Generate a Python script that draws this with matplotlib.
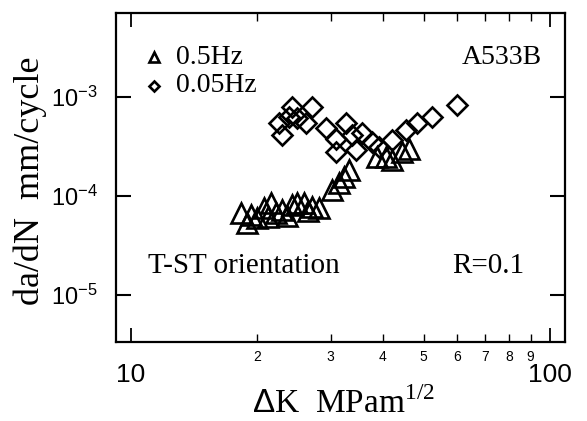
import matplotlib
matplotlib.use('Agg')
import matplotlib.pyplot as plt
from matplotlib.ticker import FixedLocator, FixedFormatter, NullFormatter

plt.rcParams['mathtext.fontset'] = 'custom'
plt.rcParams['mathtext.rm'] = 'Liberation Sans'
plt.rcParams['mathtext.it'] = 'Liberation Sans'

# ── Data ─────────────────────────────────────────────────────────────
dk_05hz = [18.3, 18.9, 19.4, 20.0, 20.8, 21.3, 21.6, 22.2, 23.0, 23.6, 24.3, 24.9,
           25.9, 26.5, 27.1, 28.2, 30.3, 31.4, 32.3, 33.2, 38.6, 40.7, 42.1, 44.3, 46.2]
dadn_05hz = [6.8e-5, 5.3e-5, 6.4e-5, 6.0e-5, 7.5e-5, 6.2e-5, 8.4e-5, 6.8e-5, 7.2e-5,
             6.3e-5, 8.1e-5, 8.4e-5, 8.4e-5, 7.0e-5, 7.7e-5, 7.5e-5, 1.14e-4, 1.34e-4,
             1.55e-4, 1.82e-4, 2.5e-4, 2.5e-4, 2.3e-4, 2.8e-4, 3.0e-4]

dk_005hz = [24.3, 27.1, 23.9, 22.6, 22.9, 24.9, 26.2, 29.3, 32.7, 30.9, 33.8,
            35.7, 37.7, 30.9, 34.5, 39.2, 42.1, 45.5, 48.1, 52.5, 60.0]
dadn_005hz = [7.9e-4, 7.9e-4, 6.2e-4, 5.5e-4, 4.1e-4, 6.1e-4, 5.4e-4, 4.9e-4,
              5.4e-4, 3.8e-4, 4.1e-4, 4.3e-4, 3.5e-4, 2.8e-4, 2.9e-4, 3.1e-4,
              3.7e-4, 4.6e-4, 5.4e-4, 6.2e-4, 8.2e-4]

minor_x = [20, 30, 40, 50, 60, 70, 80, 90]
minor_labels = ['2', '3', '4', '5', '6', '7', '8', '9']
major_x = [10, 100]
major_labels = ['10', '100']
y_ticks = [1e-5, 1e-4, 1e-3]
y_labels = [r'$10^{-5}$', r'$10^{-4}$', r'$10^{-3}$']

serif = 'Liberation Serif'
sans = 'Liberation Sans'

fig = plt.figure(figsize=(5.87, 4.21), dpi=100)
ax = fig.add_axes([0.197, 0.1876, 0.765, 0.781])

mk = dict(linestyle='none', markerfacecolor='none', markeredgecolor='black',
          markeredgewidth=1.9)
ax.plot(dk_05hz, dadn_05hz, marker='^', markersize=14, **mk)
ax.plot(dk_005hz, dadn_005hz, marker='D', markersize=10.5, **mk)

ax.set_xscale('log')
ax.set_yscale('log')
ax.set_xlim(9.2, 108.6)
ax.set_ylim(3.35e-6, 7.0e-3)

ax.xaxis.set_major_locator(FixedLocator(major_x))
ax.xaxis.set_major_formatter(FixedFormatter(major_labels))
ax.xaxis.set_minor_locator(FixedLocator(minor_x))
ax.xaxis.set_minor_formatter(FixedFormatter(minor_labels))
ax.yaxis.set_major_locator(FixedLocator(y_ticks))
ax.yaxis.set_major_formatter(FixedFormatter(y_labels))
ax.yaxis.set_minor_formatter(NullFormatter())
ax.yaxis.set_minor_locator(FixedLocator([]))

ax.tick_params(axis='x', which='major', direction='in', length=10, width=1.3,
               top=True, pad=15, labelsize=19)
ax.tick_params(axis='x', which='minor', direction='in', length=6, width=1.0,
               top=True, pad=6, labelsize=10)
ax.tick_params(axis='y', which='major', direction='in', length=11, width=1.5,
               right=True, pad=13, labelsize=17)
for lab in ax.get_xticklabels(which='both') + ax.get_yticklabels():
    lab.set_family(sans)

for sp in ax.spines.values():
    sp.set_linewidth(1.6)

fig.text(0.585, 0.022, r'$\Delta$K  MPam$^{\mathregular{1/2}}$', fontsize=24, family=serif,
         ha='center', va='baseline')
fig.text(0.052, 0.57, 'da/dN  mm/cycle', fontsize=26, family=serif,
         ha='center', va='center', rotation=90)

# legend drawn as in the original, small markers and text
ax.plot([0.085], [0.866], marker='^', transform=ax.transAxes, linestyle='none',
        markerfacecolor='none', markeredgecolor='black', markeredgewidth=1.9, markersize=7,
        clip_on=False)
ax.plot([0.085], [0.780], marker='D', transform=ax.transAxes, linestyle='none',
        markerfacecolor='none', markeredgecolor='black', markeredgewidth=1.9, markersize=5.5,
        clip_on=False)
ax.text(0.135, 0.866, '0.5Hz', transform=ax.transAxes, fontsize=20, family=serif, va='center')
ax.text(0.135, 0.780, '0.05Hz', transform=ax.transAxes, fontsize=20, family=serif, va='center')
ax.text(0.95, 0.866, 'A533B', transform=ax.transAxes, fontsize=20, family=serif,
        va='center', ha='right')
ax.text(0.073, 0.231, 'T-ST orientation', transform=ax.transAxes, fontsize=21, family=serif,
        va='center')
ax.text(0.749, 0.231, 'R=0.1', transform=ax.transAxes, fontsize=21, family=serif, va='center')

fig.savefig('out.png', dpi=100)
